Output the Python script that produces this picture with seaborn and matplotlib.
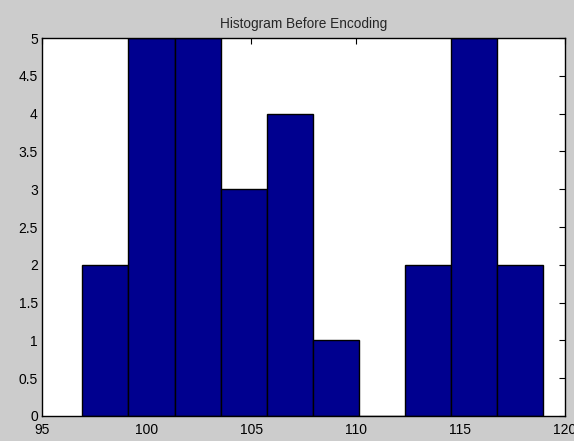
import numpy as np
import pandas as pd
import matplotlib
matplotlib.use("Agg")
import matplotlib.pyplot as plt
import seaborn as sns

# histogram data
bin_edges = list(np.linspace(96.93, 118.95, 11))
counts = [2, 5, 5, 3, 4, 1, 0, 2, 5, 2]
centers = [(a + b) / 2 for a, b in zip(bin_edges[:-1], bin_edges[1:])]
df = pd.DataFrame({"value": centers, "count": counts})

sns.set_style("white")
plt.rcParams['font.family'] = ['Liberation Sans', 'DejaVu Sans']

fig = plt.figure(figsize=(5.74, 4.41), dpi=100, facecolor="#cccccc")
ax = fig.add_axes([0.0732, 0.0567, 0.911, 0.857])

sns.histplot(data=df, x="value", weights="count", bins=bin_edges, ax=ax,
             color="#00008f", edgecolor="black", linewidth=1, alpha=1)

ax.set_xlim(95, 120)
ax.set_ylim(0, 5)
ax.set_xticks(range(95, 121, 5))
ax.set_yticks(np.arange(0, 5.01, 0.5))
ax.set_yticklabels(["0", "0.5", "1", "1.5", "2", "2.5", "3", "3.5", "4", "4.5", "5"])
ax.tick_params(direction="in", length=4, labelsize=10, colors="black")
ax.tick_params(axis="x", pad=5)
ax.tick_params(axis="y", pad=3)
ax.tick_params(top=True, right=True, labeltop=False, labelright=False)
ax.set_xlabel("")
ax.set_ylabel("")
for s in ax.spines.values():
    s.set_visible(True)
    s.set_color("black")
    s.set_linewidth(1)
ax.set_title("Histogram Before Encoding", fontsize=9.8, pad=7)

fig.savefig("out.png", dpi=100, facecolor=fig.get_facecolor())
